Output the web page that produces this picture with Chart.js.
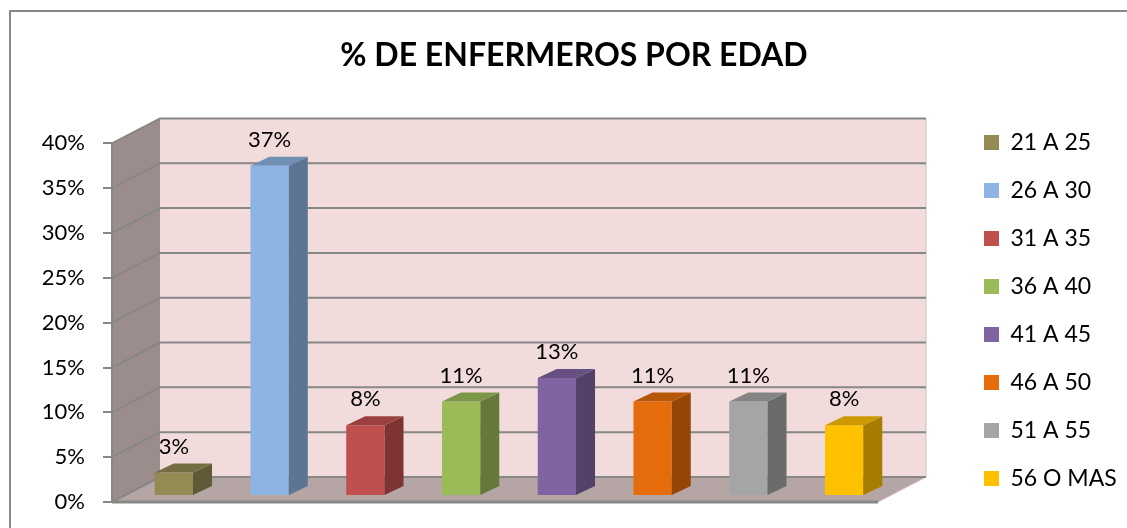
<!DOCTYPE html>
<html lang="es">
<head>
  <meta charset="UTF-8">
  <title>% DE ENFERMEROS POR EDAD</title>
  <script src="https://cdn.jsdelivr.net/npm/chart.js@4.4.1/dist/chart.umd.min.js"></script>
  <style>
    html, body { margin: 0; padding: 0; background: #fff; }
  </style>
</head>
<body>
  <canvas id="myChart" width="1127" height="528"></canvas>
  <script>
  // datos
  const categorias = ['21 A 25', '26 A 30', '31 A 35', '36 A 40', '41 A 45', '46 A 50', '51 A 55', '56 O MAS'];
  const porcentajes = [2.63, 36.84, 7.89, 10.53, 13.16, 10.53, 10.53, 7.89];
  const colores = ['#948A54', '#8DB4E2', '#C0504D', '#9BBB59', '#8064A2', '#E46C0A', '#A5A5A5', '#FFC000'];

  // profundidad de la caja 3D (pared) y de las barras
  const PARED = { dx: 48, dy: 25 };
  const BARRA = { sx: 14, sy: 6, dx: 19, dy: 9 };
  const GRIS = '#878787';

  function sombra(hex, f) {
    const n = parseInt(hex.slice(1), 16);
    const r = Math.round(((n >> 16) & 255) * f);
    const g = Math.round(((n >> 8) & 255) * f);
    const b = Math.round((n & 255) * f);
    return 'rgb(' + r + ',' + g + ',' + b + ')';
  }

  function poligono(ctx, pts, color) {
    ctx.beginPath();
    ctx.moveTo(pts[0][0], pts[0][1]);
    for (let i = 1; i < pts.length; i++) ctx.lineTo(pts[i][0], pts[i][1]);
    ctx.closePath();
    ctx.fillStyle = color;
    ctx.fill();
  }

  const caja3d = {
    id: 'caja3d',
    afterLayout(chart) {
      // mover la leyenda a su sitio
      const lg = chart.legend;
      const w = lg.width, h = lg.height;
      lg.left = 959; lg.right = lg.left + w;
      lg.top = 106; lg.bottom = lg.top + h;
    },
    beforeDraw(chart) {
      const { ctx, chartArea: a, scales: { y } } = chart;
      ctx.save();
      ctx.fillStyle = '#fff';
      ctx.fillRect(0, 0, chart.width, chart.height);
      ctx.strokeStyle = GRIS;
      ctx.lineWidth = 2;
      ctx.strokeRect(10, 11, 1300, 700);

      // pared lateral, fondo y suelo
      poligono(ctx, [[a.left, a.top], [a.left + PARED.dx, a.top - PARED.dy],
        [a.left + PARED.dx, a.bottom - PARED.dy], [a.left, a.bottom]], '#9A8D8B');
      ctx.fillStyle = '#F2DCDB';
      ctx.fillRect(a.left + PARED.dx, a.top - PARED.dy, a.right - a.left, a.bottom - a.top);
      poligono(ctx, [[a.left, a.bottom], [a.right, a.bottom],
        [a.right + PARED.dx, a.bottom - PARED.dy], [a.left + PARED.dx, a.bottom - PARED.dy]], '#B5A6A5');

      // bordes claros
      ctx.strokeStyle = '#C9C1C0';
      ctx.lineWidth = 1;
      ctx.beginPath();
      ctx.moveTo(a.right + PARED.dx, a.top - PARED.dy);
      ctx.lineTo(a.right + PARED.dx, a.bottom - PARED.dy);
      ctx.lineTo(a.right, a.bottom);
      ctx.stroke();

      // lineas de division
      ctx.strokeStyle = GRIS;
      ctx.lineWidth = 2;
      y.ticks.forEach(t => {
        const py = y.getPixelForValue(t.value);
        ctx.beginPath();
        ctx.moveTo(a.left, py);
        ctx.lineTo(a.left + PARED.dx, py - PARED.dy);
        ctx.lineTo(a.right + PARED.dx, py - PARED.dy);
        ctx.stroke();
      });

      // borde delantero del suelo
      ctx.lineWidth = 3;
      ctx.beginPath();
      ctx.moveTo(a.left, a.bottom);
      ctx.lineTo(a.right, a.bottom);
      ctx.stroke();
      ctx.restore();
    },
    beforeDatasetsDraw(chart) {
      chart.ctx.save();
      chart.ctx.translate(BARRA.sx, -BARRA.sy);
    },
    afterDatasetsDraw(chart) {
      const ctx = chart.ctx;
      const meta = chart.getDatasetMeta(0);
      meta.data.forEach((bar, i) => {
        const p = bar.getProps(['x', 'y', 'base', 'width']);
        const l = p.x - p.width / 2, r = p.x + p.width / 2;
        const top = p.y, bot = p.base;
        const c = colores[i];
        poligono(ctx, [[r, top], [r + BARRA.dx, top - BARRA.dy], [r + BARRA.dx, bot - BARRA.dy], [r, bot]], sombra(c, 0.65));
        poligono(ctx, [[l, top], [l + BARRA.dx, top - BARRA.dy], [r + BARRA.dx, top - BARRA.dy], [r, top]], sombra(c, 0.8));
        // etiqueta de valor
        ctx.fillStyle = '#000';
        ctx.font = '22px Lato';
        ctx.textAlign = 'center';
        ctx.textBaseline = 'middle';
        ctx.fillText(Math.round(porcentajes[i]) + '%', p.x, top - 26);
      });
      ctx.restore();
    }
  };

  Chart.defaults.font.family = 'Lato';
  Chart.defaults.color = '#000';

  const ctx = document.getElementById('myChart').getContext('2d');
  const myChart = new Chart(ctx, {
    type: 'bar',
    data: {
      labels: categorias,
      datasets: [{
        label: '% de enfermeros',
        data: porcentajes,
        backgroundColor: colores,
        borderWidth: 0,
        barPercentage: 0.4,
        categoryPercentage: 1
      }]
    },
    options: {
      responsive: false,
      animation: false,
      layout: { padding: { left: 21, top: 0, right: 0, bottom: 26 } },
      scales: {
        x: { display: false },
        y: {
          min: 0,
          max: 40,
          ticks: { stepSize: 5, padding: 18, font: { size: 22, lineHeight: 0.5 }, callback: v => v + '%' },
          grid: { drawOnChartArea: false, drawTicks: true, tickLength: 9, color: GRIS, lineWidth: 2 },
          border: { display: true, color: GRIS, width: 2 },
          afterFit: s => { s.width = 91; }
        },
        y2: {
          position: 'right',
          display: true,
          grid: { display: false },
          ticks: { display: false },
          border: { display: false },
          afterFit: s => { s.width = 249 - (s.chart.legend && s.chart.legend.width ? s.chart.legend.width : 182); }
        }
      },
      plugins: {
        title: {
          display: true,
          text: '% DE ENFERMEROS POR EDAD',
          font: { size: 32, weight: 'bold' },
          color: '#000',
          padding: { top: 36, bottom: 69 }
        },
        legend: {
          position: 'right',
          align: 'start',
          onClick: null,
          labels: {
            boxWidth: 15,
            boxHeight: 15,
            padding: 25,
            font: { size: 23 },
            color: '#000',
            generateLabels: chart => chart.data.labels.map((t, i) => ({
              text: t,
              fillStyle: colores[i],
              strokeStyle: colores[i],
              lineWidth: 0,
              hidden: false,
              index: i,
              fontColor: '#000'
            }))
          }
        },
        tooltip: { enabled: false }
      }
    },
    plugins: [caja3d]
  });
  </script>
</body>
</html>
